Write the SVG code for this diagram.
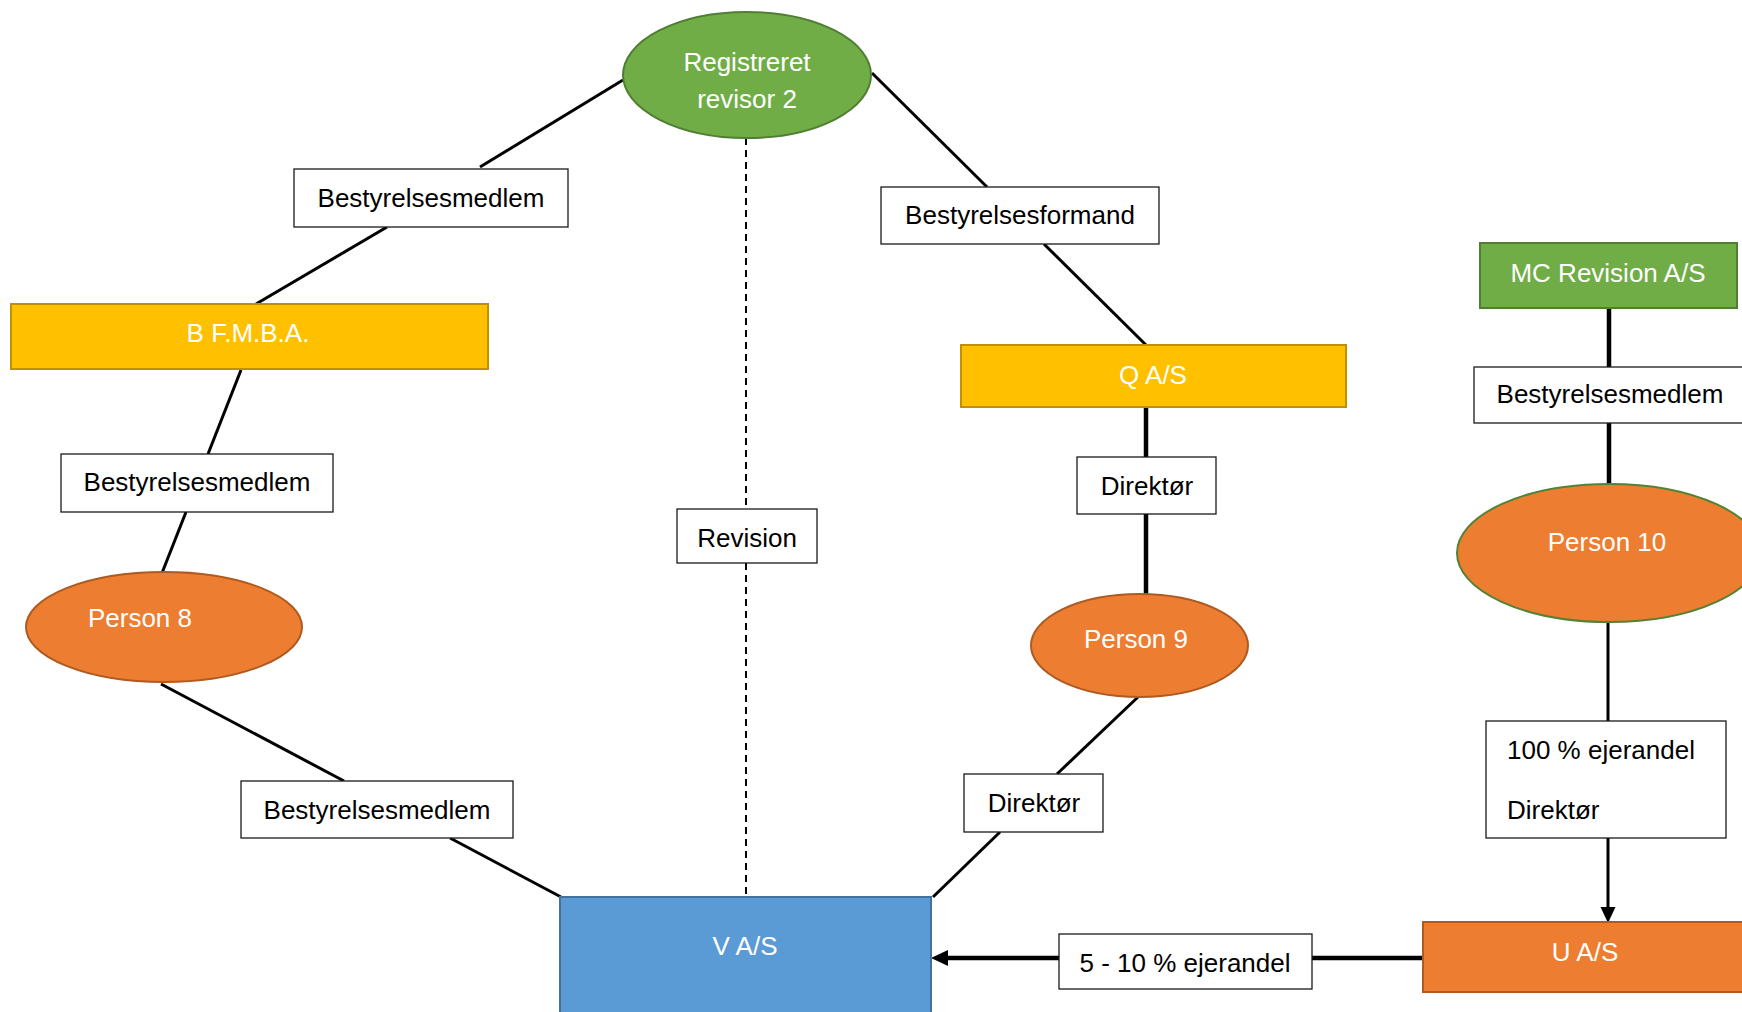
<svg xmlns="http://www.w3.org/2000/svg" width="1742" height="1012" viewBox="0 0 1742 1012">
<style>
text{font-family:"Liberation Sans",Arial,sans-serif;font-size:26px;dominant-baseline:central}
.w{fill:#fff}
.k{fill:#000}
.lbl{fill:#fff;stroke:#1a1a1a;stroke-width:1.3}
.ln{stroke:#000;stroke-width:3;fill:none}
.th{stroke:#000;stroke-width:4.5;fill:none}
.ah{fill:#000;stroke:none}
.green{fill:#70AD47;stroke:#507E32;stroke-width:2}
.yellow{fill:#FFC000;stroke:#BF9000;stroke-width:2}
.orange{fill:#ED7D31;stroke:#AE5A21;stroke-width:2}
.blue{fill:#5B9BD5;stroke:#41719C;stroke-width:2}
</style>
<rect width="1742" height="1012" fill="#fff"/>
<g id="connectors">
<line class="ln" x1="623" y1="80" x2="480" y2="167"/>
<line class="ln" x1="387" y1="227" x2="256" y2="304"/>
<line class="ln" x1="241" y1="370" x2="208" y2="454"/>
<line class="ln" x1="186" y1="512" x2="162" y2="573"/>
<line class="ln" x1="161" y1="684" x2="344" y2="781"/>
<line class="ln" x1="450" y1="838" x2="561" y2="897"/>
<line class="ln" x1="872" y1="73" x2="987" y2="187"/>
<line class="ln" x1="1044" y1="244" x2="1147" y2="346"/>
<line class="th" x1="1146" y1="407" x2="1146" y2="457"/>
<line class="th" x1="1146" y1="514" x2="1146" y2="595"/>
<line class="ln" x1="1138" y1="697" x2="1057" y2="774"/>
<line class="ln" x1="1000" y1="832" x2="933" y2="897"/>
<line stroke="#000" stroke-width="2" stroke-dasharray="7,5" x1="746" y1="138" x2="746" y2="509"/>
<line stroke="#000" stroke-width="2" stroke-dasharray="7,5" x1="746" y1="563" x2="746" y2="900"/>
<line class="th" x1="1609" y1="308" x2="1609" y2="367"/>
<line class="th" x1="1609" y1="423" x2="1609" y2="484"/>
<line class="ln" x1="1608" y1="622" x2="1608" y2="721"/>
<line class="ln" x1="1608" y1="838" x2="1608" y2="910"/>
<polygon class="ah" points="1608,923 1600.5,907 1615.5,907"/>
<line class="th" x1="1423" y1="958" x2="1312" y2="958"/>
<line class="th" x1="1059" y1="958" x2="945" y2="958"/>
<polygon class="ah" points="931,958 948,950 948,966"/>
</g>
<g id="registreret-revisor-2">
<ellipse class="green" cx="747" cy="75" rx="124" ry="63"/>
<text class="w" x="747" y="62" text-anchor="middle">Registreret</text>
<text class="w" x="747" y="99" text-anchor="middle">revisor 2</text>
</g>
<g id="lbl-bestyrelsesmedlem-1">
<rect class="lbl" x="294" y="169" width="274" height="58"/>
<text class="k" x="431" y="198" text-anchor="middle">Bestyrelsesmedlem</text>
</g>
<g id="b-fmba">
<rect class="yellow" x="11" y="304" width="477" height="65"/>
<text class="w" x="248" y="333" text-anchor="middle" font-size="25">B F.M.B.A.</text>
</g>
<g id="lbl-bestyrelsesmedlem-2">
<rect class="lbl" x="61" y="454" width="272" height="58"/>
<text class="k" x="197" y="482" text-anchor="middle">Bestyrelsesmedlem</text>
</g>
<g id="person-8">
<ellipse class="orange" cx="164" cy="627" rx="138" ry="55"/>
<text class="w" x="140" y="618" text-anchor="middle">Person 8</text>
</g>
<g id="lbl-bestyrelsesmedlem-3">
<rect class="lbl" x="241" y="781" width="272" height="57"/>
<text class="k" x="377" y="810" text-anchor="middle">Bestyrelsesmedlem</text>
</g>
<g id="lbl-revision">
<rect class="lbl" x="677" y="509" width="140" height="54"/>
<text class="k" x="747" y="538" text-anchor="middle">Revision</text>
</g>
<g id="lbl-bestyrelsesformand">
<rect class="lbl" x="881" y="187" width="278" height="57"/>
<text class="k" x="1020" y="215" text-anchor="middle">Bestyrelsesformand</text>
</g>
<g id="q-as">
<rect class="yellow" x="961" y="345" width="385" height="62"/>
<text class="w" x="1153" y="375" text-anchor="middle">Q A/S</text>
</g>
<g id="lbl-direktoer-1">
<rect class="lbl" x="1077" y="457" width="139" height="57"/>
<text class="k" x="1147" y="486" text-anchor="middle">Direktør</text>
</g>
<g id="person-9">
<ellipse class="orange" cx="1139.5" cy="645.5" rx="108.5" ry="51.5"/>
<text class="w" x="1136" y="639" text-anchor="middle">Person 9</text>
</g>
<g id="lbl-direktoer-2">
<rect class="lbl" x="964" y="774" width="139" height="58"/>
<text class="k" x="1034" y="803" text-anchor="middle">Direktør</text>
</g>
<g id="v-as">
<rect class="blue" x="560" y="897" width="371" height="125"/>
<text class="w" x="745" y="946" text-anchor="middle" font-size="25">V A/S</text>
</g>
<g id="lbl-5-10-ejerandel">
<rect class="lbl" x="1059" y="934" width="253" height="55"/>
<text class="k" x="1185" y="963" text-anchor="middle">5 - 10 % ejerandel</text>
</g>
<g id="mc-revision-as">
<rect class="green" x="1480" y="243" width="257" height="65"/>
<text class="w" x="1608" y="273" text-anchor="middle">MC Revision A/S</text>
</g>
<g id="lbl-bestyrelsesmedlem-4">
<rect class="lbl" x="1474" y="367" width="280" height="56"/>
<text class="k" x="1610" y="394" text-anchor="middle">Bestyrelsesmedlem</text>
</g>
<g id="person-10">
<ellipse cx="1609" cy="553" rx="152" ry="69" fill="#ED7D31" stroke="#548235" stroke-width="2"/>
<text class="w" x="1607" y="542" text-anchor="middle">Person 10</text>
</g>
<g id="lbl-100-ejerandel">
<rect class="lbl" x="1486" y="721" width="240" height="117"/>
<text class="k" x="1507" y="750">100 % ejerandel</text>
<text class="k" x="1507" y="810">Direktør</text>
</g>
<g id="u-as">
<rect class="orange" x="1423" y="922" width="330" height="70"/>
<text class="w" x="1585" y="952" text-anchor="middle">U A/S</text>
</g>
</svg>
